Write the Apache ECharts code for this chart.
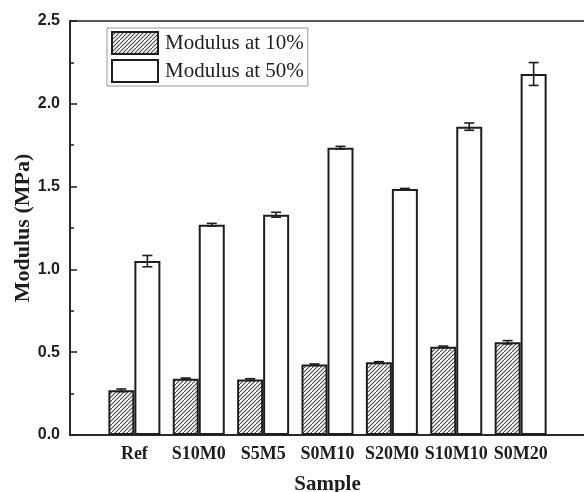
<!DOCTYPE html>
<html>
<head>
<meta charset="utf-8">
<script src="https://cdn.jsdelivr.net/npm/echarts@6/dist/echarts.min.js"></script>
<style>
  html, body { margin: 0; padding: 0; background: #fff; }
  #chart { width: 584px; height: 492px; }
</style>
</head>
<body>
<div id="chart"></div>
<script>
// Samples and measured moduli (MPa)
const categories = ['Ref', 'S10M0', 'S5M5', 'S0M10', 'S20M0', 'S10M10', 'S0M20'];
const modulus10 = [0.27, 0.34, 0.335, 0.425, 0.44, 0.533, 0.56];
const modulus50 = [1.05, 1.27, 1.33, 1.735, 1.485, 1.862, 2.18];
const error10 = [0.008, 0.004, 0.005, 0.004, 0.003, 0.004, 0.01];
const error50 = [0.034, 0.008, 0.015, 0.008, 0.004, 0.022, 0.069];
const seriesNames = ['Modulus at 10%', 'Modulus at 50%'];
const yTicks = { min: 0, max: 2.5, interval: 0.5 };

// Empty slots either side so the samples sit at whole-number positions 1..7
const axisCategories = [''].concat(categories, ['']);
const pad = arr => [null].concat(arr, [null]);

// Diagonal hatch fill for the 10% bars
function makeHatch() {
  const c = document.createElement('canvas');
  c.width = 8; c.height = 8;
  const g = c.getContext('2d');
  g.fillStyle = '#ffffff';
  g.fillRect(0, 0, 8, 8);
  g.strokeStyle = '#4a4a4a';
  g.lineWidth = 1.1;
  g.beginPath();
  g.moveTo(-1, 5); g.lineTo(5, -1);
  g.moveTo(-1, 9); g.lineTo(9, -1);
  g.moveTo(3, 9); g.lineTo(9, 3);
  g.stroke();
  return c;
}
const hatch = { image: makeHatch(), repeat: 'repeat' };

const BAR_W = 26;
const INK = '#1e1e1e';
const serif = 'Liberation Serif';

// Error-bar data: [categoryIndex, mean, err, side]
const errData = [];
categories.forEach((_, i) => {
  errData.push([i + 1, modulus10[i], error10[i], -1]);
  errData.push([i + 1, modulus50[i], error50[i], 1]);
});

function renderError(params, api) {
  const idx = api.value(0);
  const mean = api.value(1);
  const err = api.value(2);
  const side = api.value(3);
  const top = api.coord([idx, mean + err]);
  const bot = api.coord([idx, mean - err]);
  const x = top[0] + side * BAR_W / 2;
  const cap = 5;
  const style = { stroke: INK, lineWidth: 1.6, fill: null };
  return {
    type: 'group',
    children: [
      { type: 'line', shape: { x1: x, y1: top[1], x2: x, y2: bot[1] }, style },
      { type: 'line', shape: { x1: x - cap, y1: top[1], x2: x + cap, y2: top[1] }, style },
      { type: 'line', shape: { x1: x - cap, y1: bot[1], x2: x + cap, y2: bot[1] }, style }
    ]
  };
}

const chart = echarts.init(document.getElementById('chart'), null, { renderer: 'canvas' });
chart.setOption({
  animation: false,
  backgroundColor: '#fff',
  grid: {
    left: 70, top: 21, width: 515, height: 414,
    outerBoundsMode: 'none',
    containLabel: false,
    show: true, borderColor: INK, borderWidth: 1.5, backgroundColor: 'transparent'
  },
  legend: {
    orient: 'vertical',
    left: 107, top: 28,
    padding: [3, 4, 3, 4],
    itemWidth: 46, itemHeight: 22, itemGap: 4,
    borderColor: '#9a9a9a', borderWidth: 1,
    icon: 'rect',
    itemStyle: { borderColor: INK, borderWidth: 2 },
    textStyle: { fontFamily: serif, fontSize: 21, color: INK, padding: [0, 0, 0, 2] },
    data: seriesNames
  },
  xAxis: {
    type: 'category',
    data: axisCategories,
    boundaryGap: false,
    axisLine: { lineStyle: { color: INK, width: 1.5 } },
    axisTick: { show: false },
    axisLabel: {
      interval: 0, margin: 10,
      fontFamily: serif, fontWeight: 'bold', fontSize: 18, color: INK
    },
    splitLine: { show: false },
    name: 'Sample',
    nameLocation: 'middle',
    nameGap: 39,
    nameMoveOverlap: false,
    nameTextStyle: { fontFamily: serif, fontWeight: 'bold', fontSize: 21, color: INK }
  },
  yAxis: {
    type: 'value',
    min: yTicks.min, max: yTicks.max, interval: yTicks.interval,
    axisLine: { show: true, lineStyle: { color: INK, width: 1.5 } },
    axisTick: { show: true, inside: true, length: 7, lineStyle: { color: INK, width: 1.5 } },
    minorTick: { show: true, splitNumber: 2, length: 4, lineStyle: { color: INK, width: 1.5 } },
    axisLabel: {
      margin: 10,
      fontFamily: 'Liberation Sans', fontWeight: 'bold', fontSize: 16, color: INK,
      formatter: v => v.toFixed(1)
    },
    splitLine: { show: false },
    name: 'Modulus (MPa)',
    nameLocation: 'middle',
    nameGap: 36,
    nameMoveOverlap: false,
    nameTextStyle: { fontFamily: serif, fontWeight: 'bold', fontSize: 22, color: INK }
  },
  series: [
    {
      name: seriesNames[0],
      type: 'bar',
      data: pad(modulus10),
      barWidth: BAR_W,
      barGap: '0%',
      itemStyle: { color: hatch, borderColor: INK, borderWidth: 2 },
      emphasis: { disabled: true }
    },
    {
      name: seriesNames[1],
      type: 'bar',
      data: pad(modulus50),
      barWidth: BAR_W,
      barGap: '0%',
      itemStyle: { color: '#ffffff', borderColor: INK, borderWidth: 2 },
      emphasis: { disabled: true }
    },
    {
      name: 'error',
      type: 'custom',
      renderItem: renderError,
      data: errData,
      encode: { x: 0, y: 1 },
      z: 5,
      silent: true
    }
  ]
});
</script>
</body>
</html>
